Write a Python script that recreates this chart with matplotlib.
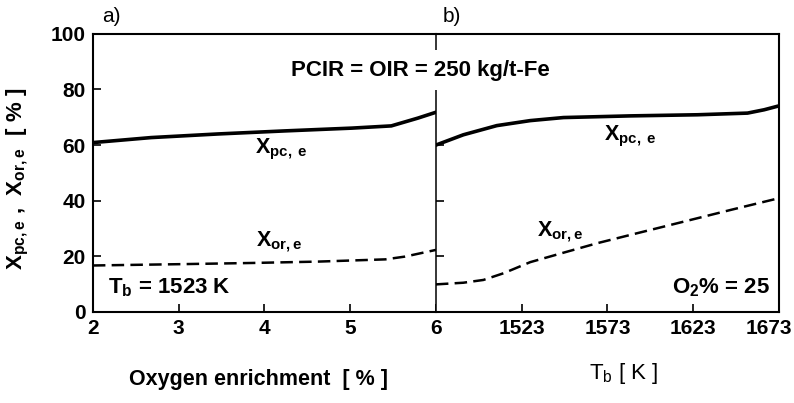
import matplotlib
matplotlib.use("Agg")
import matplotlib.pyplot as plt
import matplotlib.transforms as mtransforms

plt.rcParams['font.family'] = ['Liberation Sans', 'DejaVu Sans']
plt.rcParams['font.weight'] = 'bold'
plt.rcParams['mathtext.default'] = 'regular'

# panel a) oxygen enrichment, Tb = 1523 K
o2_pc = [2.0, 2.68, 3.46, 4.24, 5.02, 5.48, 5.79, 6.0]
xpc_a = [60.9, 62.7, 64.0, 65.1, 66.1, 66.9, 69.7, 71.8]
o2_or = [2.0, 3.07, 3.85, 4.63, 5.41, 5.64, 6.0]
xor_a = [16.7, 17.2, 17.6, 18.1, 18.9, 19.9, 22.3]

# panel b) blast temperature, O2% = 25
tb_pc = [1473, 1489, 1508.5, 1528, 1547.4, 1586.4, 1625.5, 1654.7, 1664.4, 1673]
xpc_b = [60.0, 63.7, 67.0, 68.8, 69.9, 70.5, 70.9, 71.5, 72.7, 74.1]
tb_or = [1473, 1489, 1500.7, 1512.4, 1528, 1547.4, 1567, 1586.4, 1606, 1625.5, 1645, 1673]
xor_b = [9.9, 10.5, 11.5, 13.9, 17.9, 21.3, 24.7, 27.7, 30.7, 33.7, 36.7, 40.9]

fig = plt.figure(figsize=(7.94, 4.03), dpi=100)
ax0 = fig.add_axes([0.117, 0.226, 0.432, 0.69])
ax1 = fig.add_axes([0.549, 0.226, 0.432, 0.69])

dash = (0, (5, 2.5))
ax0.plot(o2_pc, xpc_a, color='black', linewidth=2.6)
ax0.plot(o2_or, xor_a, color='black', linewidth=1.8, linestyle=dash)
ax1.plot(tb_pc, xpc_b, color='black', linewidth=2.6)
ax1.plot(tb_or, xor_b, color='black', linewidth=1.8, linestyle=dash)

ax0.set_xlim(2, 6)
ax0.set_ylim(0, 100)
ax0.set_xticks([2, 3, 4, 5, 6])
ax0.set_yticks([0, 20, 40, 60, 80, 100])
ax1.set_xlim(1473, 1673)
ax1.set_ylim(0, 100)
ax1.set_xticks([1523, 1573, 1623, 1673])
ax1.set_yticks([20, 40, 60, 80])
ax1.tick_params(axis='y', labelleft=False)

for ax in (ax0, ax1):
    ax.tick_params(direction='in', length=6, width=1.2, labelsize=15, pad=5)
    for s in ax.spines.values():
        s.set_linewidth(1.5)
    for lab in ax.get_xticklabels() + ax.get_yticklabels():
        lab.set_fontweight('bold')
ax1.spines['left'].set_linewidth(1.1)
ax0.spines['right'].set_visible(False)

# last tick label sits a bit left of its tick in the original
last = ax1.get_xticklabels()[-1]
last.set_transform(last.get_transform() +
                   mtransforms.ScaledTranslation(-10 / 100, 0, fig.dpi_scale_trans))

ax0.set_ylabel(r'$X_{pc,e}$ ,  $X_{or,e}$  [ % ]', fontsize=16, fontweight='bold')
ax0.yaxis.set_label_coords(-0.18, 0.48)
fig.text(0.325, 0.045, 'Oxygen enrichment  [ % ]', ha='center', fontsize=15.5, fontweight='bold')
fig.text(0.785, 0.06, r'$T_b$ [ K ]', ha='center', fontsize=16, fontweight='normal')

fig.text(0.128, 0.945, 'a)', fontsize=15, fontweight='normal')
fig.text(0.558, 0.945, 'b)', fontsize=15, fontweight='normal')
# header sits on a white patch that interrupts the middle spine
fig.text(0.529, 0.826, 'PCIR = OIR = 250 kg/t-Fe', ha='center', va='center',
         fontsize=16, fontweight='bold', zorder=5,
         bbox=dict(facecolor='white', edgecolor='none', pad=7))

ax0.text(4.19, 58.3, r'$X_{pc,\,e}$', ha='center', va='center', fontsize=15.5, fontweight='bold')
ax0.text(4.18, 25.2, r'$X_{or,e}$', ha='center', va='center', fontsize=15.5, fontweight='bold')
ax0.text(2.175, 8.6, r'$T_b$ = 1523 K', ha='left', va='center', fontsize=16, fontweight='bold')
ax1.text(1586, 63, r'$X_{pc,\,e}$', ha='center', va='center', fontsize=15.5, fontweight='bold')
ax1.text(1545.5, 28.8, r'$X_{or,e}$', ha='center', va='center', fontsize=15.5, fontweight='bold')
ax1.text(1668, 8.6, r'$O_2$% = 25', ha='right', va='center', fontsize=16, fontweight='bold')

fig.savefig('out.png', dpi=100)
